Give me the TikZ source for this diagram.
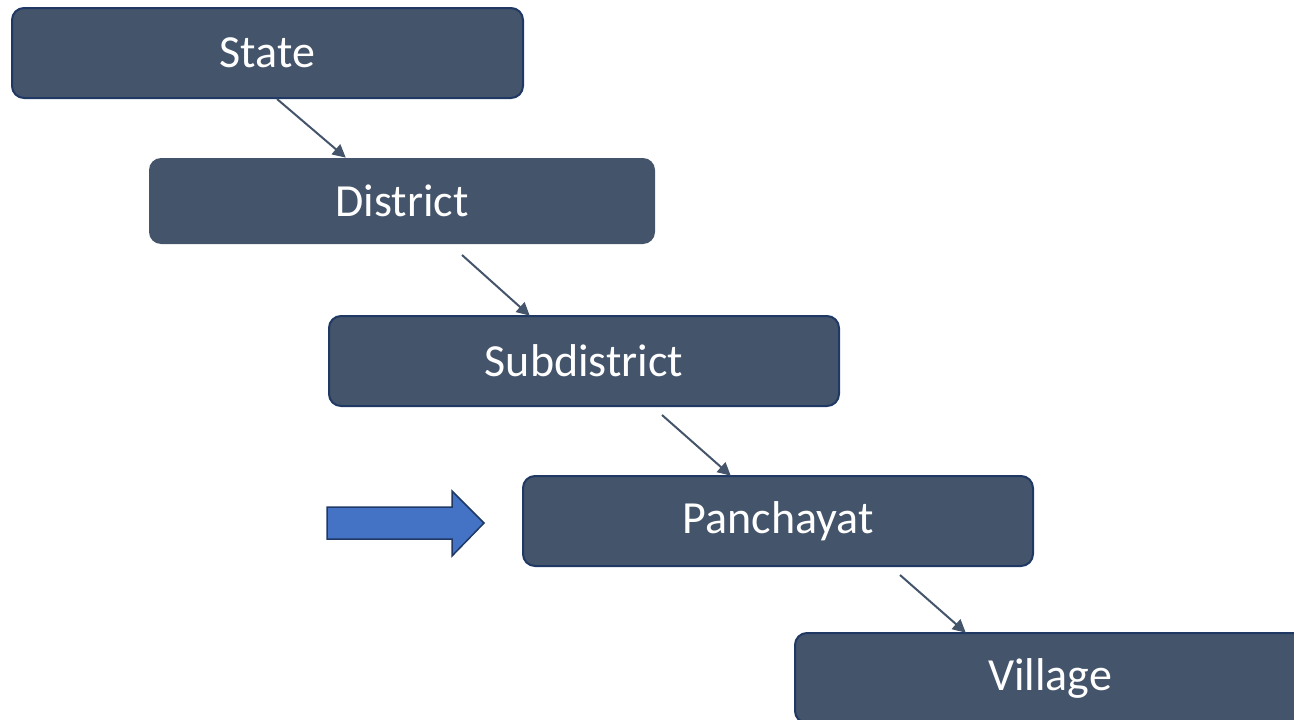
\documentclass[tikz,border=0pt]{standalone}
\usepackage{fontspec}
\setmainfont{Carlito}
\usetikzlibrary{arrows.meta}
\definecolor{boxfill}{HTML}{44546A}
\definecolor{boxline}{HTML}{1F3864}
\definecolor{bluefill}{HTML}{4472C4}
\tikzset{
  lvl/.style={draw=boxline, line width=2pt, fill=boxfill, rounded corners=12pt,
    text=white, font=\fontsize{46}{55}\selectfont, inner sep=0pt},
  conn/.style={draw=boxfill, line width=2pt, -{Triangle[length=13pt,width=13pt]}, shorten >=-1pt}
}
\begin{document}
\begin{tikzpicture}[x=1pt,y=-1pt]
\useasboundingbox (0,0) rectangle (1294,720);
\clip (0,0) rectangle (1294,720);
\node[lvl, minimum width=511pt, minimum height=90pt] (state) at (267.5,53) {State};
\node[lvl, draw=none, minimum width=506pt, minimum height=86pt] (district) at (402,201) {District};
\node[lvl, minimum width=510pt, minimum height=90pt] (subdistrict) at (584,361) {Subdistrict};
\node[lvl, minimum width=510pt, minimum height=90pt] (panchayat) at (778,521) {Panchayat};
\node[lvl, minimum width=510pt, minimum height=90pt] (village) at (1050,678) {Village};
\draw[conn] ([xshift=266pt]state.south west) -- ([xshift=197pt]district.north west);
\draw[conn] ([xshift=314pt,yshift=-10pt]district.south west) -- ([xshift=201pt]subdistrict.north west);
\draw[conn] ([xshift=334pt,yshift=-8pt]subdistrict.south west) -- ([xshift=208pt]panchayat.north west);
\draw[conn] ([xshift=378pt,yshift=-8pt]panchayat.south west) -- ([xshift=171pt]village.north west);
\draw[draw=boxline, line width=1.5pt, fill=bluefill, line join=miter]
  (327,507) -- (452,507) -- (452,491) -- (484,523) -- (452,556) -- (452,539) -- (327,539) -- cycle;
\end{tikzpicture}
\end{document}
